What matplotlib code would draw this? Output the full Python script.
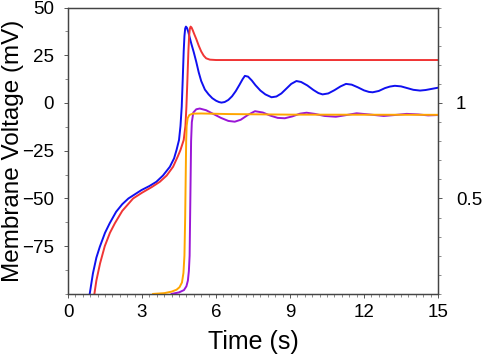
import numpy as np
import matplotlib
matplotlib.use('Agg')
import matplotlib.pyplot as plt
from matplotlib.ticker import FixedLocator, FixedFormatter, MultipleLocator

plt.rcParams['font.family'] = ['Liberation Sans', 'DejaVu Sans']

# membrane voltage traces (mV), left axis
blue_t = [0.88, 1.01, 1.15, 1.29, 1.5, 1.69, 1.95, 2.2, 2.45, 2.98, 3.3, 3.58, 3.85, 4.13, 4.3, 4.4,
          4.5, 4.56, 4.61, 4.65, 4.69, 4.72, 4.75, 4.78, 4.82, 4.87, 4.93, 5.0, 5.1, 5.2, 5.3, 5.4, 5.55, 5.7,
          5.85, 6.0, 6.12, 6.22, 6.35, 6.5, 6.65, 6.8, 6.95, 7.08, 7.17, 7.3, 7.45, 7.6, 7.8, 8.0,
          8.25, 8.45, 8.65, 8.85, 9.05, 9.26, 9.45, 9.7, 9.95, 10.15, 10.32, 10.55, 10.8, 11.05,
          11.27, 11.5, 11.75, 12.0, 12.2, 12.35, 12.6, 12.85, 13.05, 13.25, 13.5, 13.75, 14.0,
          14.27, 14.5, 14.75, 15.0]
blue_v = [-100, -89.3, -81, -75.3, -68, -63, -57, -53, -50, -45.6, -43.5, -41.3, -38, -33.4, -29, -24.6,
          -19.4, -12, -2, 12, 27, 35, 39, 40, 39.4, 37.5, 34.5, 31, 26.5, 21.5, 16, 11.5, 7, 4.5,
          2.5, 1.2, 0.5, 0.2, 0.5, 1.6, 3.5, 6.2, 9.5, 12.5, 14.2, 13.8, 11.8, 9.3, 6.5, 4.5,
          3.0, 3.4, 5.0, 7.5, 10.0, 11.5, 11.0, 9.2, 6.8, 5.2, 4.5, 5.0, 6.7, 8.7,
          10.0, 9.6, 8.2, 6.6, 5.8, 5.6, 6.3, 7.8, 8.6, 9.0, 8.7, 7.8, 6.9,
          6.5, 6.8, 7.4, 8.0]

red_t = [1.07, 1.15, 1.3, 1.49, 1.7, 1.9, 2.2, 2.64, 3.0, 3.4, 3.72, 4.0, 4.26, 4.45, 4.56, 4.69,
         4.76, 4.8, 4.84, 4.88, 4.91, 4.94, 4.97, 5.01, 5.06, 5.12, 5.2, 5.3, 5.4, 5.5, 5.6, 5.75, 6.0, 15.0]
red_v = [-100, -93, -84, -75, -68, -63, -56.5, -50, -47, -44, -41.3, -38, -33.4, -28, -24.6, -19.4,
         -12, -2, 12, 27, 35, 39, 40, 39.5, 38, 36, 33.5, 30, 27, 24.8, 23.4, 22.7, 22.5, 22.5]

# normalized traces, right axis
orange_t = [3.45, 3.9, 4.2, 4.4, 4.52, 4.62, 4.68, 4.72, 4.75, 4.77, 4.79, 4.81, 4.85, 4.92, 5.05,
            5.4, 6.5, 9.0, 15.0]
orange_r = [0.0, 0.004, 0.012, 0.022, 0.035, 0.06, 0.11, 0.2, 0.4, 0.6, 0.8, 0.88, 0.92, 0.937, 0.944,
            0.945, 0.942, 0.939, 0.938]

purple_t = [4.2, 4.5, 4.7, 4.8, 4.86, 4.9, 4.93, 4.95, 4.97, 4.99, 5.02, 5.08, 5.2, 5.34, 5.6, 5.9,
            6.2, 6.5, 6.76, 7.0, 7.3, 7.58, 7.9, 8.2, 8.5, 8.79, 9.1, 9.4, 9.67, 10.0, 10.4, 10.86,
            11.25, 11.7, 12.2, 12.8, 13.25, 13.73, 14.2, 14.6, 15.0]
purple_r = [0.0, 0.008, 0.02, 0.04, 0.07, 0.12, 0.2, 0.4, 0.6, 0.8, 0.9, 0.95, 0.967, 0.971, 0.962, 0.942,
            0.922, 0.906, 0.902, 0.912, 0.938, 0.957, 0.95, 0.934, 0.922, 0.92, 0.93, 0.944, 0.949, 0.943, 0.932, 0.928,
            0.936, 0.946, 0.94, 0.932, 0.937, 0.943, 0.94, 0.935, 0.937]

fig = plt.figure(figsize=(4.84, 3.58), dpi=100)
ax = fig.add_axes([0.1405, 0.179, 0.7645, 0.80])
ax2 = ax.twinx()

ax.plot(blue_t, blue_v, color='#1010f0', lw=1.4)
ax.plot(red_t, red_v, color='#f03535', lw=1.4)
ax2.plot(purple_t, purple_r, color='#9a16d6', lw=1.4)
ax2.plot(orange_t, orange_r, color='#ffa500', lw=1.4)

ax.set_xlim(0, 15)
ax.set_ylim(-100, 50)
ax2.set_ylim(0, 1.5)

ax.xaxis.set_major_locator(MultipleLocator(3))
ax.xaxis.set_minor_locator(MultipleLocator(0.3))
ax.yaxis.set_major_locator(FixedLocator([-75, -50, -25, 0, 25, 50]))
ax.yaxis.set_minor_locator(MultipleLocator(12.5))
ax2.yaxis.set_major_locator(FixedLocator([0.5, 1.0]))
ax2.yaxis.set_major_formatter(FixedFormatter(['0.5', '1']))
ax2.yaxis.set_minor_locator(MultipleLocator(0.1))

for a in (ax, ax2):
    for s in a.spines.values():
        s.set_color('#444444')
        s.set_linewidth(0.9)
    a.tick_params(which='major', length=3, width=0.7, color='#555555', labelsize=13.5)
    a.tick_params(which='minor', length=2, width=0.6, color='#777777')
ax.tick_params(axis='x', pad=4)
ax.tick_params(axis='y', pad=7)
ax2.tick_params(axis='y', pad=10)

ax.set_xlabel('Time (s)', fontsize=18)
ax.set_ylabel('Membrane Voltage (mV)', fontsize=17.5)
ax.xaxis.set_label_coords(0.5, -0.125)
ax.yaxis.set_label_coords(-0.118, 0.5)

fig.savefig('out.png', dpi=100)
